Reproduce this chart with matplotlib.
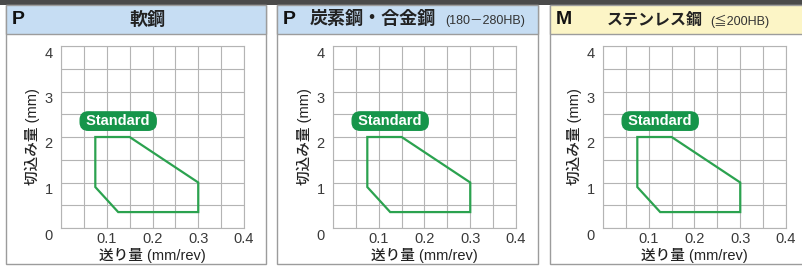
import matplotlib
matplotlib.use('Agg')
import matplotlib.pyplot as plt
import numpy as np
from matplotlib.patches import Rectangle, Polygon
from matplotlib.transforms import ScaledTranslation

plt.rcParams['font.family'] = ['Liberation Sans', 'Noto Sans CJK JP', 'DejaVu Sans']

# data: the "Standard" recommended zone, same for every material
feed = [0.075, 0.15, 0.30, 0.30, 0.125, 0.075]     # mm/rev
depth = [2.0, 2.0, 1.0, 0.35, 0.35, 0.9]           # mm
badge_xy = (0.125, 2.35)

codes = ['P', 'P', 'M']
titles = ['軟鋼', '炭素鋼・合金鋼', 'ステンレス鋼']
subtitles = ['', '(180－280HB)', '(≦200HB)']
x_ticks = [0.1, 0.2, 0.3, 0.4]
x_ticklabels = ['0.1', '0.2', '0.3', '0.4']
y_ticks = [0, 1, 2, 3, 4]
y_ticklabels = ['0', '1', '2', '3', '4']
xlabel = '送り量 (mm/rev)'
ylabel = '切込み量 (mm)'

W, H = 803, 268
grid_c = '#b4b4b4'
border_c = '#9c9c9c'
line_c = '#2ba24f'
badge_c = '#16954a'
head_c = ['#c6ddf3', '#c6ddf3', '#fcf5c6']

fig = plt.figure(figsize=(W / 100, H / 100), dpi=100)

# background layer in pixel coordinates
bg = fig.add_axes([0, 0, 1, 1], zorder=0)
bg.set_xlim(0, W)
bg.set_ylim(H, 0)
bg.axis('off')
bg.add_patch(Rectangle((0, 0), W, 4.5, fc='#4a4a4a', ec='none'))

panel_l = [6.5, 277.5, 550.5]
panel_r = [266.5, 538.5, 808]
axes_l = [61, 333, 603]
title_x = [147, 310, 607]
title_fs = [13, 13, 11.5]
sub_x = [0, 445, 710]

for i in range(3):
    l, r = panel_l[i], panel_r[i]
    bg.add_patch(Rectangle((l, 4.5), r - l, 259.5, fc='white', ec=border_c, lw=1.0))
    bg.add_patch(Rectangle((l, 4.5), r - l, 29, fc=head_c[i], ec=border_c, lw=1.0))
    bg.text(l + 5, 20, codes[i], fontsize=14, fontweight='bold', color='#111111',
            ha='left', va='center')
    if i == 0:
        bg.text(title_x[i], 20, titles[i], fontsize=title_fs[i], fontweight='bold',
                color='#222222', ha='center', va='center')
    else:
        bg.text(title_x[i], 20, titles[i], fontsize=title_fs[i], fontweight='bold',
                color='#222222', ha='left', va='center')
        bg.text(sub_x[i], 21, subtitles[i], fontsize=9, color='#333333',
                ha='left', va='center')

    ax = fig.add_axes([axes_l[i] / W, 40 / H, 183 / W, 182 / H], zorder=1)
    ax.set_xlim(0, 0.4)
    ax.set_ylim(0, 4)
    ax.set_xticks(x_ticks)
    ax.set_xticklabels(x_ticklabels)
    ax.set_xticks(np.arange(0, 0.401, 0.05), minor=True)
    ax.set_yticks(y_ticks)
    ax.set_yticklabels(y_ticklabels)
    ax.set_yticks(np.arange(0, 4.01, 0.5), minor=True)
    ax.grid(True, which='both', color=grid_c, lw=0.8)
    ax.set_axisbelow(True)
    for s in ax.spines.values():
        s.set_color(grid_c)
        s.set_linewidth(0.8)
    ax.tick_params(which='both', length=0)
    ax.tick_params(axis='x', pad=3, labelsize=10.5, labelcolor='#3a3a3a')
    ax.tick_params(axis='y', pad=6, labelsize=10.5, labelcolor='#3a3a3a')
    off = ScaledTranslation(0, -0.06, fig.dpi_scale_trans)
    for lab in ax.get_yticklabels():
        lab.set_transform(lab.get_transform() + off)

    ax.add_patch(Polygon(np.column_stack([feed, depth]), closed=True, fill=False,
                         ec=line_c, lw=1.6, joinstyle='miter'))
    ax.text(badge_xy[0], badge_xy[1], ' Standard ', fontsize=10.5, fontweight='bold',
            color='white', ha='center', va='center',
            bbox=dict(boxstyle='round,pad=0.15,rounding_size=0.55', fc=badge_c, ec=badge_c))

    ax.set_xlabel(xlabel, fontsize=10.5, fontweight='medium', color='#222222', va='center')
    ax.xaxis.set_label_coords(0.5, -27 / 182)
    ax.set_ylabel(ylabel, fontsize=10.5, fontweight='medium', color='#222222', va='center')
    ax.yaxis.set_label_coords(-29 / 183, 0.5)

fig.savefig('out.png', dpi=100)
